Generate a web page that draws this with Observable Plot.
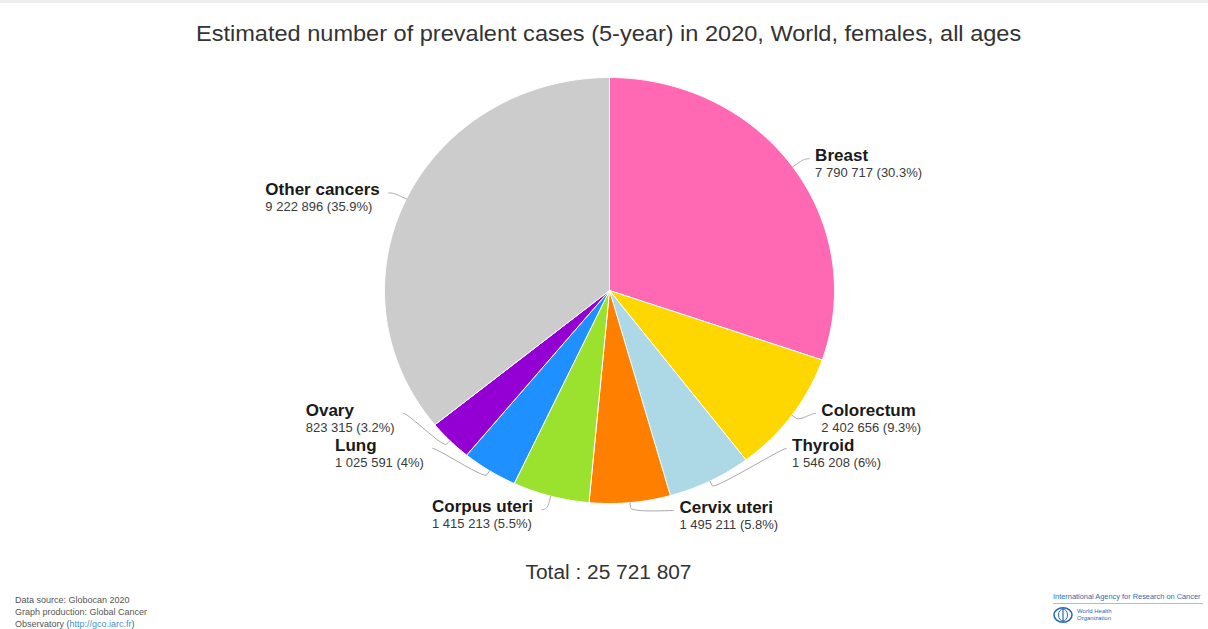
<!DOCTYPE html>
<html>
<head>
<meta charset="utf-8">
<script src="https://cdn.jsdelivr.net/npm/d3@7"></script>
<script src="https://cdn.jsdelivr.net/npm/@observablehq/plot@0.6"></script>
<style>
  html, body { margin: 0; padding: 0; background: #ffffff; }
  body { width: 1208px; height: 629px; position: relative; overflow: hidden;
         font-family: "Liberation Sans", Arial, sans-serif; }
  #topbar { position: absolute; left: 0; top: 0; width: 1208px; height: 3px; background: #eeeeee; }
  #title { box-sizing: border-box; height: 62px; padding-top: 21px; padding-left: 10px;
           line-height: 26px; font-size: 22px; text-align: center; color: #333333; }
  #title span, #total span { display: inline-block; transform: scaleX(1.07); transform-origin: center; }
  #chart { height: 490px; }
  #chart svg { display: block; }
  #total { margin-top: 8px; line-height: 24px; font-size: 19.5px; text-align: center;
           padding-left: 10px; color: #333333; }
  #source { position: absolute; left: 15px; top: 594px; font-size: 9px; line-height: 12px; color: #555555; }
  #source .url { color: #4a90c8; }
  #logo { position: absolute; left: 1053px; top: 592px; width: 150px; }
  #logo .iarc { font-size: 7.4px; color: #2b6cb0; white-space: nowrap;
                border-bottom: 1px solid #a9bfd6; padding-bottom: 2px; }
  #logo .who { display: flex; align-items: center; margin-top: 3px; }
  #logo .who span { font-size: 6px; line-height: 7px; color: #2b6cb0; margin-left: 4px; }
</style>
</head>
<body>
<div id="topbar"></div>
<div id="title"><span>Estimated number of prevalent cases (5-year) in 2020, World, females, all ages</span></div>
<div id="chart"></div>
<div id="total"><span id="totaltext"></span></div>
<div id="source">Data source: Globocan 2020<br>Graph production: Global Cancer<br>Observatory (<span class="url">http://gco.iarc.fr</span>)</div>
<div id="logo">
  <div class="iarc">International Agency for Research on Cancer</div>
  <div class="who">
    <svg width="20" height="16" viewBox="0 0 20 16"><ellipse cx="10" cy="8" rx="9" ry="7.2" fill="none" stroke="#2b6cb0" stroke-width="1.6"/><ellipse cx="10" cy="8" rx="4.5" ry="6" fill="none" stroke="#2b6cb0" stroke-width="1"/><line x1="10" y1="1" x2="10" y2="15" stroke="#2b6cb0" stroke-width="1.2"/></svg>
    <span>World Health<br>Organization</span>
  </div>
</div>
<script>
// ---- data ----
const names = ["Breast", "Colorectum", "Thyroid", "Cervix uteri", "Corpus uteri", "Lung", "Ovary", "Other cancers"];
const cases = [7790717, 2402656, 1546208, 1495211, 1415213, 1025591, 823315, 9222896];
const colors = ["#ff69b4", "#ffd700", "#add8e6", "#ff7f00", "#9be22e", "#1e90ff", "#9400d3", "#cccccc"];
const totalPrefix = "Total : ";

// ---- layout constants ----
const W = 1208, H = 490;
const cx = 609, cy = 228, rx = 225, ry = 213;
const labelDistance = 14, slotHeight = 35, plotBottom = 448, connectorOffset = 5;
const FONT = "'Liberation Sans', Arial, sans-serif";
const nameSize = 17, valueSize = 13;

const fmt = d3.formatLocale({decimal: ".", thousands: " ", grouping: [3], currency: ["", ""]}).format(",");
const total = d3.sum(cases);
const pct = v => { const p = Math.round(v / total * 1000) / 10; return (Number.isInteger(p) ? String(p) : p.toFixed(1)) + "%"; };

document.getElementById("totaltext").textContent = totalPrefix + fmt(total);

const data = names.map((name, i) => ({name, value: cases[i]}));
const arcs = d3.pie().sort(null).value(d => d.value)(data);

// slice polygons (unit circle; scales stretch to the ellipse)
const slicePts = [];
for (const a of arcs) {
  const n = Math.max(2, Math.ceil((a.endAngle - a.startAngle) / (Math.PI / 360)));
  slicePts.push({name: a.data.name, x: 0, y: 0});
  for (let k = 0; k <= n; k++) {
    const t = a.startAngle + (a.endAngle - a.startAngle) * k / n;
    slicePts.push({name: a.data.name, x: Math.sin(t), y: Math.cos(t)});
  }
  slicePts.push({name: a.data.name, x: 0, y: 0});
}

// label placement (slot algorithm) in pixel space
const Ry = ry + labelDistance, Rx = rx + labelDistance;
const labels = arcs.map(a => {
  const t = (a.startAngle + a.endAngle) / 2;
  return {
    name: a.data.name,
    valueText: fmt(a.data.value) + " (" + pct(a.data.value) + ")",
    t, left: t > Math.PI,
    naturalY: cy - Ry * Math.cos(t),
    edge: [cx + rx * Math.sin(t), cy - ry * Math.cos(t)],
    bend: [cx + (rx + connectorOffset) * Math.sin(t), cy - (ry + connectorOffset) * Math.cos(t)]
  };
});
const getX = (y, left) => cx + (left ? -1 : 1) * Math.cos(Math.asin(Math.max(-1, Math.min(1, (y - cy) / Ry)))) * Rx;

for (const left of [false, true]) {
  const pts = labels.filter(l => l.left === left).sort((a, b) => left ? b.t - a.t : a.t - b.t);
  const slots = [];
  for (let pos = Math.max(0, cy - Ry); pos <= Math.min(cy + Ry, plotBottom); pos += slotHeight) slots.push(pos);
  const L = pts.length, S = slots.length, used = [];
  pts.forEach((p, j) => {
    let idx = 0, best = Infinity;
    slots.forEach((s, i) => { const dd = Math.abs((s === null ? 0 : s) - p.naturalY); if (dd < best) { best = dd; idx = i; } });
    if (idx < j && slots[j] !== null) idx = j;
    else if (S < L - j + idx && slots[j] !== null) { idx = S - L + j; while (slots[idx] === null) idx++; }
    else { while (slots[idx] === null) idx++; }
    used.push({i: idx, y: slots[idx]});
    slots[idx] = null;
  });
  used.sort((a, b) => a.i - b.i);
  pts.forEach((p, j) => {
    const slot = used[j];
    let y = slot.y;
    if ((p.naturalY > y && slots[slot.i + 1] !== null) || (p.naturalY < y && slots[slot.i - 1] !== null)) {
      y = Math.min(Math.max(0, p.naturalY), plotBottom);
    }
    p.py = y; p.px = getX(y, left);
  });
}

// text widths for left-side blocks
const ctx = document.createElement("canvas").getContext("2d");
const measure = (txt, weight, size) => { ctx.font = `${weight} ${size}px ${FONT}`; return ctx.measureText(txt).width; };

const toUx = px => (px - cx) / rx;
const toUy = py => (cy - py) / ry;

const connPts = [];
for (const l of labels) {
  const sgn = l.left ? -1 : 1;
  const p0 = [l.px + 5 * sgn, l.py], c1 = [l.px, l.py];
  const c2 = [2 * l.bend[0] - l.edge[0], 2 * l.bend[1] - l.edge[1]], p3 = l.bend;
  for (let k = 0; k <= 20; k++) {
    const t = k / 20, u = 1 - t;
    const X = u*u*u*p0[0] + 3*u*u*t*c1[0] + 3*u*t*t*c2[0] + t*t*t*p3[0];
    const Y = u*u*u*p0[1] + 3*u*u*t*c1[1] + 3*u*t*t*c2[1] + t*t*t*p3[1];
    connPts.push({name: l.name, x: toUx(X), y: toUy(Y)});
  }
  connPts.push({name: l.name, x: toUx(l.edge[0]), y: toUy(l.edge[1])});
  const bw = Math.max(measure(l.name, "bold", nameSize), measure(l.valueText, "normal", valueSize));
  const tx = l.left ? l.px - 14 - bw : l.px + 11;
  l.tx = toUx(tx); l.ty = toUy(l.py);
}

const chart = Plot.plot({
  width: W, height: H, margin: 0,
  x: {domain: [-1, 1], range: [cx - rx, cx + rx], axis: null},
  y: {domain: [-1, 1], range: [cy + ry, cy - ry], axis: null},
  color: {domain: names, range: colors},
  style: {fontFamily: FONT, background: "transparent", overflow: "visible"},
  marks: [
    Plot.line(slicePts, {x: "x", y: "y", z: "name", fill: "name", stroke: "#ffffff", strokeWidth: 1, strokeLinejoin: "round"}),
    Plot.line(connPts, {x: "x", y: "y", z: "name", stroke: "#a8a8a8", strokeWidth: 1}),
    Plot.text(labels, {x: "tx", y: "ty", text: "name", textAnchor: "start", lineAnchor: "middle", dy: -3,
      fontSize: nameSize, fontWeight: "bold", fill: "#1a1a1a"}),
    Plot.text(labels, {x: "tx", y: "ty", text: "valueText", textAnchor: "start", lineAnchor: "middle", dy: 14,
      fontSize: valueSize, fill: "#3a3a3a"})
  ]
});
document.getElementById("chart").appendChild(chart);
</script>
</body>
</html>
